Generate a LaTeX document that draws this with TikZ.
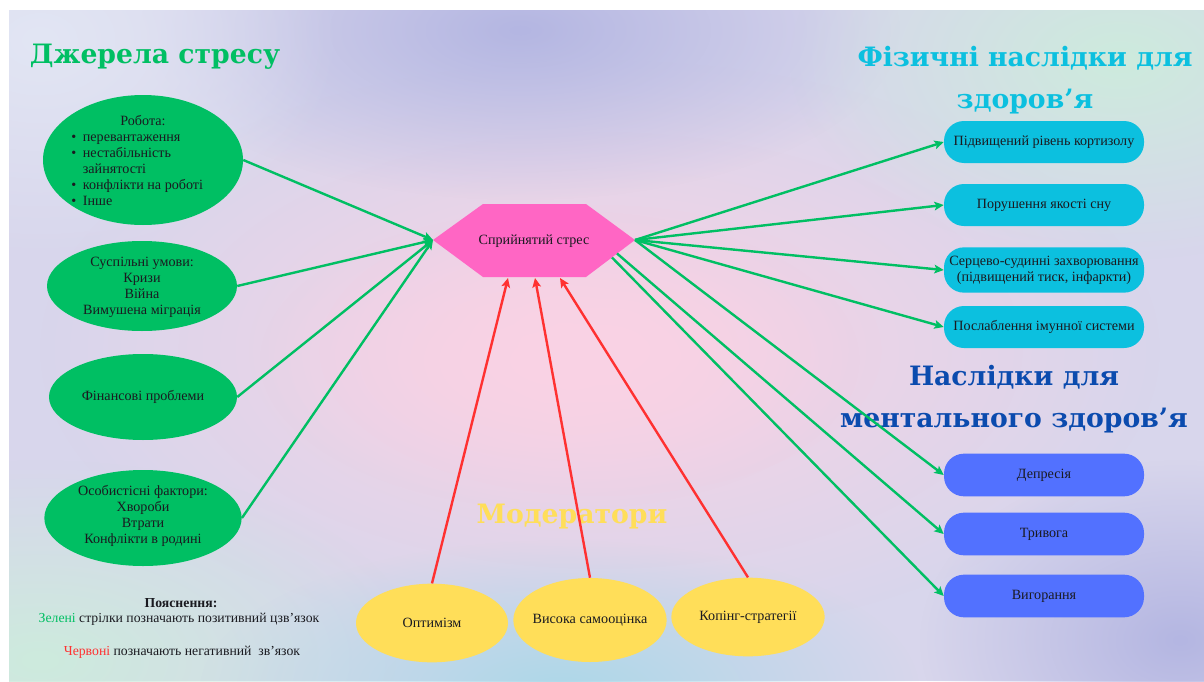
\documentclass[tikz,border=0pt]{standalone}
\usepackage{fontspec}
\setmainfont{Liberation Serif}
\newfontfamily\titlefont{DejaVu Serif}
\usetikzlibrary{shapes.geometric,arrows.meta,fadings}
\tikzfading[name=blobfade, inner color=transparent!0, outer color=transparent!100]
\definecolor{cgreen}{HTML}{00BF63}
\definecolor{cred}{HTML}{FF3131}
\definecolor{ccyan}{HTML}{0CC0DF}
\definecolor{cblue}{HTML}{5271FF}
\definecolor{cyellow}{HTML}{FFDE59}
\definecolor{cpink}{HTML}{FF66C4}
\definecolor{cnavy}{HTML}{0B4BAE}
\definecolor{ctext}{HTML}{1A1A20}
\definecolor{bgbase}{HTML}{D8D6EC}
\definecolor{bgpink}{HTML}{FAD2E4}
\definecolor{bglav}{HTML}{B4B6E2}
\definecolor{bgmint}{HTML}{CDEBDD}
\definecolor{bgsky}{HTML}{ADD8E8}
\definecolor{bgpale}{HTML}{E2E6F4}
\begin{document}
\begin{tikzpicture}[x=0.75pt,y=-0.75pt,
  txt/.style={font=\fontsize{10.6}{12}\selectfont, text=ctext, align=center, inner sep=0pt},
  ttl/.style={font=\titlefont\bfseries\fontsize{20}{32}\selectfont, align=center, inner sep=0pt},
  gell/.style={ellipse, fill=cgreen, inner sep=0pt},
  yell/.style={ellipse, fill=cyellow, inner sep=0pt},
  cbox/.style={rectangle, rounded corners=15pt, fill=ccyan, minimum width=150pt, minimum height=31.5pt, inner sep=0pt},
  bbox/.style={rectangle, rounded corners=15pt, fill=cblue, minimum width=150pt, minimum height=32pt, inner sep=0pt},
  garrow/.style={draw=cgreen, line width=1.8pt, -{Stealth[length=7pt,width=6.5pt,inset=1.5pt]}},
  rarrow/.style={draw=cred, line width=1.8pt, -{Stealth[length=7pt,width=6.5pt,inset=1.5pt]}},
  blob/.style={fill=#1, path fading=blobfade}
]
\useasboundingbox (0,0) rectangle (1204,682);
% background
\fill[white] (0,0) rectangle (1204,682);
\begin{scope}
\clip (9,10) rectangle (1204,681);
\fill[bgbase] (9,10) rectangle (1204,681);
\fill[blob=bgpink] (600,350) ellipse [x radius=560, y radius=290];
\fill[blob=bgpink] (560,360) ellipse [x radius=300, y radius=150];
\fill[blob=bglav] (520,30) ellipse [x radius=380, y radius=170];
\fill[blob=bgmint] (1120,60) ellipse [x radius=330, y radius=200];
\fill[blob=bgmint] (40,660) ellipse [x radius=380, y radius=200];
\fill[blob=bgsky] (560,690) ellipse [x radius=360, y radius=150];
\fill[blob=bgpale] (40,40) ellipse [x radius=300, y radius=220];
\fill[blob=bglav] (1180,640) ellipse [x radius=260, y radius=180];
\end{scope}

% titles
\node[ttl, text=cgreen] (t1) at (155,57) {Джерела стресу};
\node[ttl, text=ccyan] (t2) at (1025,80) {Фізичні наслідки для\\здоров’я};
\node[ttl, text=cnavy] (t3) at (1014,399) {Наслідки для\\ментального здоров’я};
\node[ttl, text=cyellow] (t4) at (572,517) {Модератори};

% sources
\node[gell, minimum width=150pt, minimum height=97.5pt] (e1) at (143,160) {};
\node[txt] (e1h) at (143,121) {Робота:};
\node[txt, align=left, anchor=west] (e1t) at (71,170) {\textbullet\hspace{5pt}перевантаження\\ \textbullet\hspace{5pt}нестабільність\\ \hphantom{\textbullet\hspace{5pt}}зайнятості\\ \textbullet\hspace{5pt}конфлікти на роботі\\ \textbullet\hspace{5pt}Інше};
\node[gell, minimum width=142.5pt, minimum height=67.5pt] (e2) at (142,286) {};
\node[txt] (e2t) at (142,287) {Суспільні умови:\\Кризи\\Війна\\Вимушена міграція};
\node[gell, minimum width=141pt, minimum height=64.5pt] (e3) at (143,397) {};
\node[txt] (e3t) at (143,397) {Фінансові проблеми};
\node[gell, minimum width=148pt, minimum height=72pt] (e4) at (143,518) {};
\node[txt] (e4t) at (143,516) {Особистісні фактори:\\Хвороби\\Втрати\\Конфлікти в родині};

% hexagon
\coordinate (hL) at (433,240);
\coordinate (hR) at (635,240);
\fill[cpink] (hL) -- (483,204) -- (586,204) -- (hR) -- (586,277) -- (483,277) -- cycle;
\node[txt] (hex) at (534,241) {Сприйнятий стрес};
\coordinate (hb1) at (508,278);
\coordinate (hb2) at (535,278);
\coordinate (hb3) at (560,278);
\coordinate (he1) at (617,253.5);
\coordinate (he2) at (612,257.5);

% physical
\node[cbox] (c1) at (1044,142) {};
\node[txt] (c1t) at (c1) {Підвищений рівень кортизолу};
\node[cbox] (c2) at (1044,205) {};
\node[txt] (c2t) at (c2) {Порушення якості сну};
\node[cbox, minimum height=34pt] (c3) at (1044,270) {};
\node[txt] (c3t) at (c3) {Серцево-судинні захворювання\\(підвищений тиск, інфаркти)};
\node[cbox] (c4) at (1044,327) {};
\node[txt] (c4t) at (c4) {Послаблення імунної системи};

% mental
\node[bbox] (b1) at (1044,475) {};
\node[txt] (b1t) at (b1) {Депресія};
\node[bbox] (b2) at (1044,534) {};
\node[txt] (b2t) at (b2) {Тривога};
\node[bbox] (b3) at (1044,596) {};
\node[txt] (b3t) at (b3) {Вигорання};

% moderators
\node[yell, minimum width=114pt, minimum height=59pt] (m1) at (432,623) {};
\node[txt] (m1t) at (m1) {Оптимізм};
\node[yell, minimum width=115pt, minimum height=63pt] (m2) at (590,620) {};
\node[txt] (m2t) at (m2) {Висока самооцінка};
\node[yell, minimum width=115pt, minimum height=59pt] (m3) at (748,617) {};
\node[txt] (m3t) at (m3) {Копінг-стратегії};

% legend
\node[txt, font=\bfseries\fontsize{10.3}{12}\selectfont] (l1) at (181,603) {Пояснення:};
\node[txt, font=\fontsize{10.3}{12}\selectfont] (l2) at (179,619) {\textcolor{cgreen}{Зелені} стрілки позначають позитивний цзв’язок};
\node[txt, font=\fontsize{10.3}{12}\selectfont] (l3) at (182,652) {\textcolor{cred}{Червоні} позначають негативний~~зв’язок};

% arrows
\draw[garrow] (e1.east) -- (hL);
\draw[garrow] (e2.east) -- (hL);
\draw[garrow] (e3.east) -- (hL);
\draw[garrow] (e4.east) -- (hL);
\draw[garrow] (hR) -- (c1.west);
\draw[garrow] (hR) -- (c2.west);
\draw[garrow] (hR) -- (c3.west);
\draw[garrow] (hR) -- (c4.west);
\draw[garrow] (hR) -- (b1.west);
\draw[garrow] (he1) -- (b2.west);
\draw[garrow] (he2) -- (b3.west);
\draw[rarrow] (m1.north) -- (hb1);
\draw[rarrow] (m2.north) -- (hb2);
\draw[rarrow] (m3.north) -- (hb3);
\end{tikzpicture}
\end{document}
